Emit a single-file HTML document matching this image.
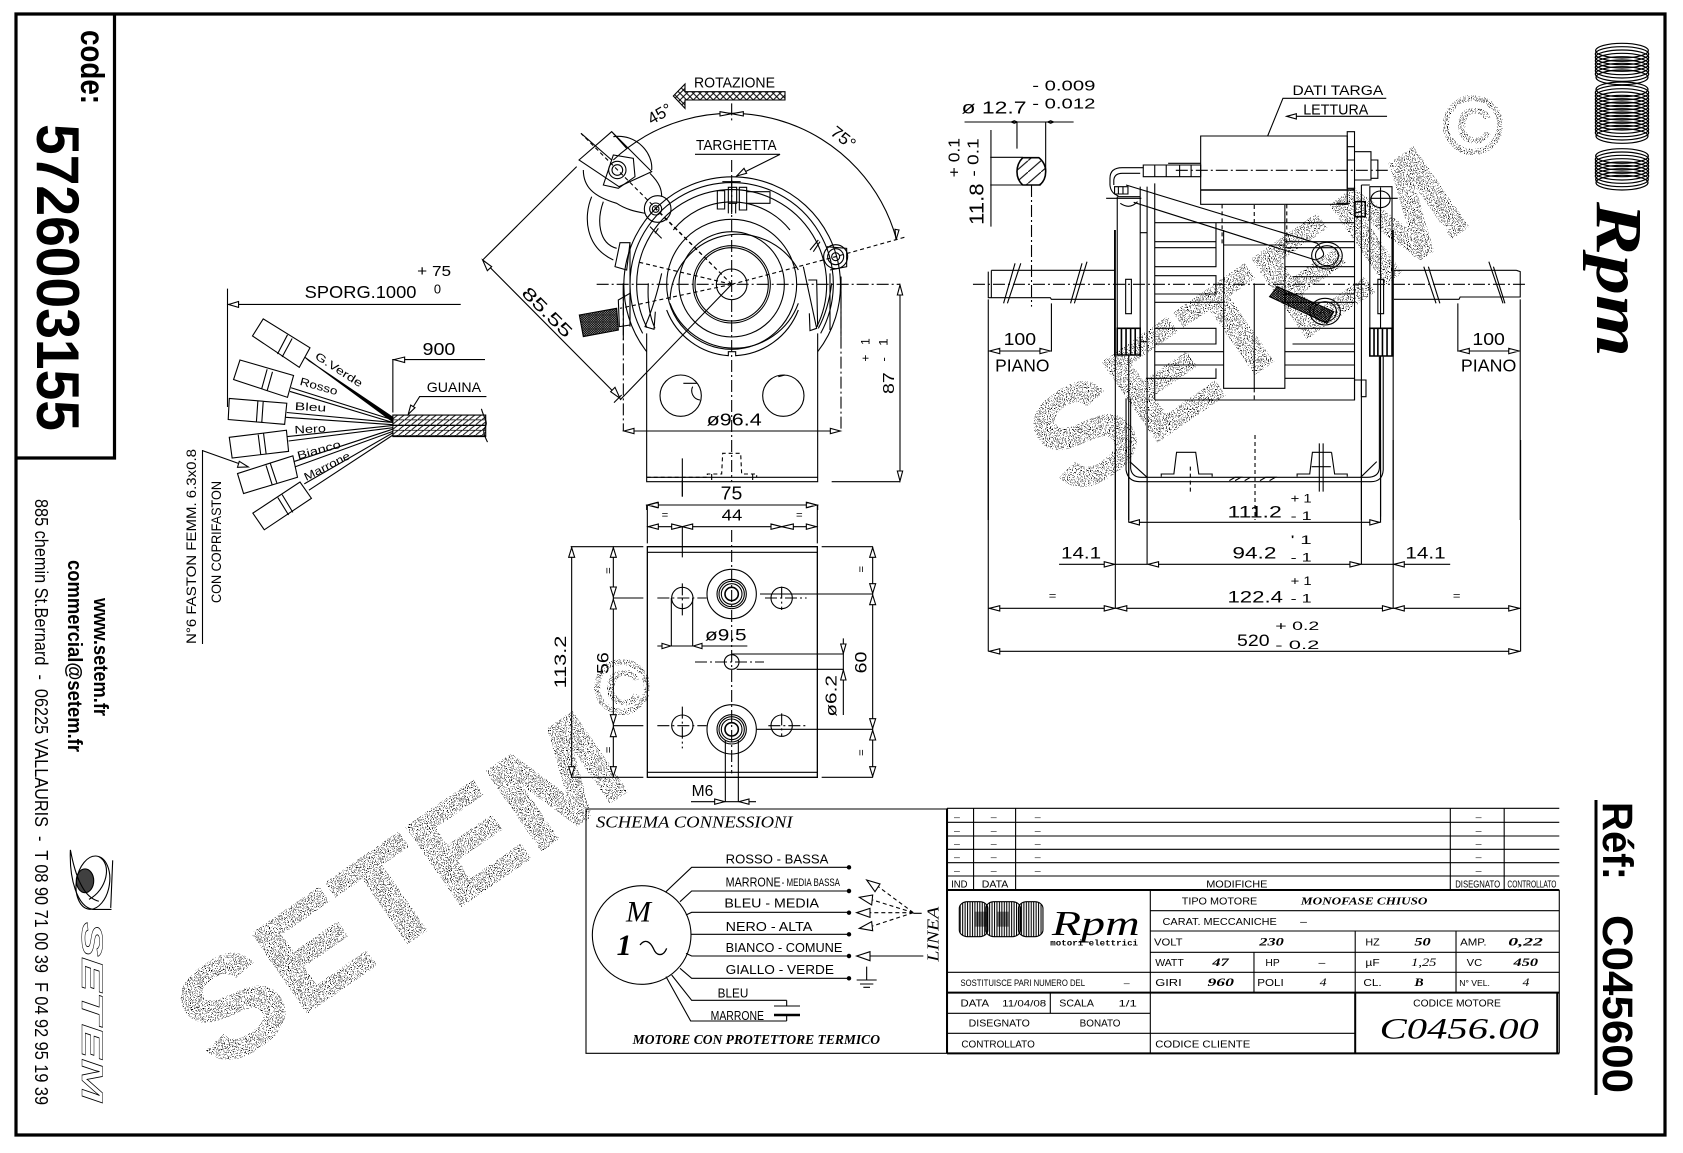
<!DOCTYPE html>
<html><head><meta charset="utf-8"><title>C045600</title>
<style>
html,body{margin:0;padding:0;background:#fff;width:1683px;height:1153px;overflow:hidden}
svg{display:block}
svg *{vector-effect:non-scaling-stroke}
pattern *{vector-effect:none}
.l{fill:none;stroke:#000;stroke-width:1.1}
.k{fill:#000}
.w{fill:#fff}
.d{stroke-dasharray:12 3 2 3}
.h{stroke-dasharray:4 3}
text{fill:#000;stroke:none;font-family:"Liberation Sans",sans-serif}
.s{font-family:"Liberation Serif",serif;font-style:italic}
.sb{font-family:"Liberation Serif",serif;font-style:italic;font-weight:bold}
.bd{font-weight:bold}
.wm{stroke:#000;stroke-width:3}
</style></head><body>
<svg xmlns="http://www.w3.org/2000/svg" width="1683" height="1153" viewBox="0 0 1683 1153">
<defs>
<pattern id="hx" width="18" height="14" patternUnits="userSpaceOnUse"><path d="M0 14L18 0M0 .5H18" stroke="#000" stroke-width="2.6"/></pattern>
<pattern id="hr" width="20" height="20" patternUnits="userSpaceOnUse"><path d="M0 20L20 0M0 0L20 20" stroke="#000" stroke-width="3"/></pattern>
<pattern id="hd" width="7" height="7" patternUnits="userSpaceOnUse"><path d="M0 7L7 0M0 0L7 7" stroke="#000" stroke-width="2.6"/></pattern>
<pattern id="hl" width="34" height="34" patternUnits="userSpaceOnUse"><path d="M0 34L34 0" stroke="#000" stroke-width="3"/></pattern>
<pattern id="st" width="6" height="5" patternUnits="userSpaceOnUse"><rect width="2.6" height="5" fill="#000"/></pattern>
<filter id="sp" x="-5%" y="-5%" width="110%" height="110%" color-interpolation-filters="sRGB">
<feTurbulence type="fractalNoise" baseFrequency="1.05" numOctaves="1" seed="4"/>
<feColorMatrix values="0 0 0 0 0 0 0 0 0 0 0 0 0 0 0 22 0 0 0 -12.6"/>
<feComposite in2="SourceAlpha" operator="in"/>
</filter>
</defs>

<!-- watermarks -->
<g filter="url(#sp)">
<text class="wm" transform="translate(219 1073) rotate(-34.7)" font-size="138" font-weight="bold" textLength="505" lengthAdjust="spacingAndGlyphs">SETEM</text>
<text class="wm" transform="translate(1072 500) rotate(-34.7)" font-size="138" font-weight="bold" textLength="490" lengthAdjust="spacingAndGlyphs">SETEM</text>
</g>
<g filter="url(#sp)" class="l" style="stroke-width:6">
<circle cx="1473" cy="125" r="27"/><circle cx="622" cy="687" r="25"/>
</g>
<g filter="url(#sp)"><text x="1456" y="143" font-size="50" font-weight="bold">C</text><text x="605" y="705" font-size="50" font-weight="bold">C</text></g>

<g class="l">
<!-- frame -->
<rect x="16" y="14" width="1649" height="1121" style="stroke-width:3.2"/>
<path d="M114.5 14V458H16" style="stroke-width:3.2"/>

<!-- left texts -->
<text transform="translate(81 30) rotate(90)" font-size="33" class="bd" textLength="74" lengthAdjust="spacingAndGlyphs">code:</text>
<text transform="translate(37 124) rotate(90)" font-size="60" class="bd" textLength="307" lengthAdjust="spacingAndGlyphs">5726003155</text>
<text transform="translate(94 598) rotate(90)" font-size="20" class="bd" textLength="118" lengthAdjust="spacingAndGlyphs">www.setem.fr</text>
<text transform="translate(68 560) rotate(90)" font-size="20" class="bd" textLength="192" lengthAdjust="spacingAndGlyphs">commercial@setem.fr</text>
<text transform="translate(35 499) rotate(90)" font-size="18" textLength="606" lengthAdjust="spacingAndGlyphs" xml:space="preserve">885 chemin St.Bernard  -  06225 VALLAURIS  -  T 08 90 71 00 39  F 04 92 95 19 39</text>
<text transform="translate(82 922) rotate(90)" font-size="30" font-style="italic" font-weight="bold" textLength="180" lengthAdjust="spacingAndGlyphs" style="fill:#fff;stroke:#000;stroke-width:.5">SETEM</text>

<!-- bird logo (z2) -->
<g transform="translate(0 570) scale(.3954 .3722)">
<ellipse cx="235" cy="840" rx="42" ry="72" transform="rotate(8 235 840)"/>
<ellipse cx="215" cy="835" rx="22" ry="32" class="k" fill-opacity=".75"/>
<path d="M178 752C175 830 195 905 235 912H282M178 752C190 820 210 880 250 890M285 780L280 908M250 770C285 790 270 860 225 885"/>
</g>

<!-- wiring harness (z1) -->
<g transform="scale(.35714 .36996)">
<path d="M637 780V1100M637 823H1290"/><path d="M640 823L668 815V831Z" class="w"/>
<text x="853" y="806" font-size="47" textLength="313" lengthAdjust="spacingAndGlyphs">SPORG.1000</text>
<text x="1168" y="746" font-size="40" textLength="95" lengthAdjust="spacingAndGlyphs" xml:space="preserve">+ 75</text>
<text x="1215" y="793" font-size="36">0</text>
<path d="M737 862L868 940L838 993L707 908ZM805 905L777 957M818 915L790 965"/>
<path d="M672 973L822 1015L805 1074L654 1026ZM748 998L733 1050M763 1005L748 1056"/>
<path d="M642 1077L803 1090L797 1147L639 1134ZM722 1084L718 1140M737 1085L733 1142"/>
<path d="M642 1182L802 1163L808 1220L650 1238ZM723 1175L730 1228M738 1172L745 1226"/>
<path d="M665 1280L820 1232L833 1290L682 1334ZM745 1258L762 1310M757 1253L775 1305"/>
<path d="M708 1387L840 1303L872 1347L740 1432ZM778 1345L808 1392M790 1337L820 1385"/>
<path d="M853 965L865 975L1100 1128V1140Z" class="k"/>
<path d="M815 1048L1100 1135M812 1058L1100 1142M803 1115L1100 1142M800 1128L1100 1148M805 1180L1100 1150M808 1192L1100 1156M822 1248L1100 1160M826 1262L1100 1166M852 1308L1100 1170M865 1325L1100 1176"/>
<text transform="translate(880 968) rotate(32)" font-size="30" textLength="150" lengthAdjust="spacingAndGlyphs">G.Verde</text>
<text transform="translate(838 1040) rotate(15)" font-size="30" textLength="108" lengthAdjust="spacingAndGlyphs">Rosso</text>
<text transform="translate(825 1108) rotate(3)" font-size="30" textLength="88" lengthAdjust="spacingAndGlyphs">Bleu</text>
<text transform="translate(825 1172) rotate(-3)" font-size="30" textLength="88" lengthAdjust="spacingAndGlyphs">Nero</text>
<text transform="translate(835 1242) rotate(-15)" font-size="30" textLength="125" lengthAdjust="spacingAndGlyphs">Bianco</text>
<text transform="translate(857 1300) rotate(-26)" font-size="30" textLength="140" lengthAdjust="spacingAndGlyphs">Marrone</text>
<rect x="1100" y="1122" width="260" height="58" fill="url(#hx)"/>
<path d="M1100 1150H1360M1348 1105C1355 1130 1366 1140 1360 1152C1350 1165 1355 1175 1365 1195"/>
<path d="M1100 1115V972H1358"/><path d="M1103 972L1133 965V980Z" class="w"/>
<text x="1183" y="960" font-size="48" textLength="92" lengthAdjust="spacingAndGlyphs">900</text>
<text x="1195" y="1060" font-size="38" textLength="152" lengthAdjust="spacingAndGlyphs">GUAINA</text>
<path d="M1362 1072H1175L1145 1118"/><path d="M1143 1120L1150 1095L1162 1102Z" class="w"/>
<path d="M567 1218L695 1262"/><path d="M695 1262L665 1263L670 1247Z" class="w"/>
</g>
<path d="M202.5 450V644"/>
<text transform="translate(196 644) rotate(-90)" font-size="13.5" textLength="195" lengthAdjust="spacingAndGlyphs">N°6 FASTON FEMM. 6.3x0.8</text>
<text transform="translate(221 603) rotate(-90)" font-size="13.5" textLength="122" lengthAdjust="spacingAndGlyphs">CON COPRIFASTON</text>

<!-- front view (z3) -->
<g transform="translate(470 70) scale(.33333)">
<text x="672" y="52" font-size="44" textLength="243" lengthAdjust="spacingAndGlyphs">ROTAZIONE</text>
<path d="M610 78L645 42V65H945V90H645V115Z" fill="url(#hr)"/>
<text transform="translate(545 165) rotate(-30)" font-size="50" textLength="75" lengthAdjust="spacingAndGlyphs">45°</text>
<text transform="translate(1078 192) rotate(38)" font-size="50" textLength="80" lengthAdjust="spacingAndGlyphs">75°</text>
<path d="M430 270A515 515 0 0 1 1280 510"/>
<path d="M750 125V138L785 131ZM820 125V138L785 131Z" class="w"/>
<path d="M1275 478L1287 480L1278 510Z" class="w"/>
<text x="678" y="240" font-size="44" textLength="242" lengthAdjust="spacingAndGlyphs">TARGHETTA</text>
<path d="M675 253H930L800 318"/><path d="M800 318L822 295L830 310Z" class="w"/>
<path d="M785 100V160M785 270V1235" class="d"/>
<path d="M380 643H1290" class="d"/>
<!-- rings -->
<circle cx="785" cy="643" r="46"/><circle cx="785" cy="643" r="110"/><circle cx="785" cy="643" r="116"/><circle cx="785" cy="643" r="158"/><circle cx="785" cy="643" r="195"/>
<path d="M600 690A205 205 0 0 1 985 600M985 700A205 205 0 0 1 600 700M590 720A214 214 0 0 0 775 857V845H797V857A214 214 0 0 0 985 720M610 480A224 224 0 0 1 960 480"/>
<path d="M530 845A325 325 0 1 1 1043 845"/>
<path d="M518 790A305 305 0 1 1 1052 790"/>
<path d="M531 773A285 285 0 1 1 1039 773"/>
<path d="M480 520V770M460 640V810M1113 620V800M1080 610V780"/>
<!-- plate -->
<path d="M530 790V1235H1043V790M530 1222H1043"/>
<path d="M530 1222H712V1212H755L758 1150H812L815 1212H860V1222" class="h"/>
<circle cx="632" cy="977" r="62"/><circle cx="940" cy="977" r="62"/>
<path d="M668 950A28 28 0 0 0 690 990M640 940H680M925 920L945 915"/>
<path d="M637 1165V1280M725 1230V1212M848 1230V1212"/>
<!-- terminal top -->
<path d="M742 362H764V417H742ZM808 352H830V420H808ZM775 352H800V400H775ZM830 365H900V400H830ZM757 335H812M785 320V432M775 400V430M797 400V430"/>
<!-- springs -->
<path d="M575 610Q555 700 525 770L552 778L556 725M535 640Q530 720 555 775M1000 590L1040 775L1020 782L1018 730M1015 630H1040L1043 770M1085 640Q1075 720 1045 775"/>
<!-- lugs -->
<circle cx="557" cy="417" r="18"/><circle cx="557" cy="417" r="10"/><circle cx="563" cy="417" r="40"/>
<circle cx="1097" cy="560" r="12"/><circle cx="1097" cy="560" r="24"/><circle cx="1097" cy="560" r="36"/>
<path d="M1070 530L1130 535L1130 590L1080 600"/>
<path d="M540 470L575 505M555 490L565 475M1020 540L1045 510M1030 545L1050 515"/>
<!-- left terminal -->
<path d="M327 270L425 185L545 305L447 350ZM333 190L425 270M425 185L470 235"/>
<circle cx="442" cy="300" r="26"/><circle cx="442" cy="300" r="16"/>
<path d="M400 345L430 255L490 265L495 320L445 355Z"/>
<path d="M340 300C340 350 370 380 440 400C470 420 500 425 525 430M430 200C500 190 550 250 545 300M540 310C570 340 575 360 575 380"/>
<path d="M365 380C340 440 345 530 430 570M400 395C380 450 385 520 440 535"/>
<path d="M450 518H480L470 600L435 590ZM445 690L480 670V765L448 770Z"/>
<path d="M328 735L440 715L445 780L340 800Z" fill="url(#hd)"/>
<path d="M785 643L555 415M785 643L1097 560L1310 500M785 643L500 575M785 643L450 715M785 643L333 190" class="h"/>
<!-- dimensions -->
<path d="M450 990L785 643M38 570L320 290M38 570L450 985M432 998L455 975"/>
<path d="M38 570L65 590L52 602ZM450 985L422 965L435 952Z" class="w"/>
<text transform="translate(152 672) rotate(45)" font-size="52" textLength="190" lengthAdjust="spacingAndGlyphs">85.55</text>
<path d="M460 640V1083M1113 620V1083" class="d"/>
<path d="M460 1083H1113"/><path d="M462 1083L492 1075V1091ZM1111 1083L1081 1075V1091Z" class="w"/>
<text x="710" y="1066" font-size="52" textLength="165" lengthAdjust="spacingAndGlyphs">ø96.4</text>
<path d="M1290 643V1235M1085 1235H1290"/><path d="M1290 645L1282 675H1298ZM1290 1233L1282 1203H1298Z" class="w"/>
<text transform="translate(1272 972) rotate(-90)" font-size="48" textLength="65" lengthAdjust="spacingAndGlyphs">87</text>
<text transform="translate(1198 875) rotate(-90)" font-size="36" textLength="70" lengthAdjust="spacingAndGlyphs" xml:space="preserve">+   1</text>
<text transform="translate(1253 875) rotate(-90)" font-size="36" textLength="70" lengthAdjust="spacingAndGlyphs" xml:space="preserve">-   1</text>
<path d="M530 1320V1305H1043V1320"/><path d="M532 1305L562 1297V1313ZM1041 1305L1011 1297V1313Z" class="w"/>
<text x="752" y="1288" font-size="55" textLength="65" lengthAdjust="spacingAndGlyphs">75</text>
</g>

<!-- plan view (z4) -->
<g transform="translate(540 480) scale(.33333)">
<path d="M322 75V190M832 75V190M322 75H832M322 140H832"/>
<path d="M325 75L355 67V83ZM829 75L799 67V83ZM325 140L355 132V148ZM829 140L799 132V148ZM427 140L395 132V148ZM427 140L458 132V148ZM725 140L693 132V148ZM725 140L760 132V148Z" class="w"/>
<text x="365" y="115" font-size="34">=</text><text x="768" y="115" font-size="34">=</text>
<text x="545" y="122" font-size="46" textLength="62" lengthAdjust="spacingAndGlyphs">44</text>
<path d="M427 0V50M427 140V232" />
<path d="M575 150V880" class="d"/>
<rect x="322" y="200" width="510" height="692" style="stroke-width:1.3"/>
<path d="M322 217H832M322 877H832"/>
<!-- bosses -->
<circle cx="575" cy="342" r="74"/><circle cx="575" cy="342" r="44"/><circle cx="575" cy="342" r="38"/><circle cx="575" cy="342" r="31"/><circle cx="575" cy="342" r="20" style="stroke-width:1.6"/>
<circle cx="575" cy="748" r="74"/><circle cx="575" cy="748" r="44"/><circle cx="575" cy="748" r="38"/><circle cx="575" cy="748" r="31"/><circle cx="575" cy="748" r="20" style="stroke-width:1.6"/>
<circle cx="427" cy="354" r="32"/><circle cx="725" cy="354" r="32"/><circle cx="427" cy="737" r="32"/><circle cx="725" cy="737" r="32"/>
<circle cx="575" cy="546" r="22"/>
<path d="M352 354H500M675 354H800M427 310V415M725 320V390M352 737H500M685 737H800M427 680V805M725 700V770M465 546H672" class="d"/>
<path d="M845 200H998M92 200H310M220 354H310M660 342H998M220 737H310M650 748H998M92 892H310M845 892H998"/>
<path d="M95 200V892M220 200V892M998 200V892"/>
<path d="M95 203L86 232H104ZM95 889L86 860H104ZM220 203L211 232H229ZM220 350L211 321H229ZM220 358L211 387H229ZM220 733L211 704H229ZM220 741L211 770H229ZM220 889L211 860H229ZM998 203L989 232H1007ZM998 340L989 311H1007ZM998 345L989 374H1007ZM998 745L989 716H1007ZM998 751L989 780H1007ZM998 889L989 860H1007Z" class="w"/>
<text transform="translate(78 625) rotate(-90)" font-size="50" textLength="158" lengthAdjust="spacingAndGlyphs">113.2</text>
<text transform="translate(206 582) rotate(-90)" font-size="50" textLength="65" lengthAdjust="spacingAndGlyphs">56</text>
<text transform="translate(980 580) rotate(-90)" font-size="50" textLength="65" lengthAdjust="spacingAndGlyphs">60</text>
<text transform="translate(194 262) rotate(90)" font-size="34">=</text><text transform="translate(194 800) rotate(90)" font-size="34">=</text>
<text transform="translate(952 258) rotate(90)" font-size="34">=</text><text transform="translate(952 808) rotate(90)" font-size="34">=</text>
<!-- d9.5 -->
<path d="M394 354V498M458 354V498M352 498H622"/>
<path d="M392 498L366 490V506ZM460 498L486 490V506Z" class="w"/>
<text x="495" y="482" font-size="50" textLength="125" lengthAdjust="spacingAndGlyphs">ø9.5</text>
<!-- d6.2 -->
<path d="M575 522H910M590 568H910M910 475V705"/>
<path d="M910 520L902 492H918ZM910 570L902 600H918Z" class="w"/>
<text transform="translate(890 710) rotate(-90)" font-size="48" textLength="125" lengthAdjust="spacingAndGlyphs">ø6.2</text>
<!-- M6 -->
<path d="M556 780V965M595 780V965M453 965H648"/>
<path d="M554 965L524 957V973ZM597 965L627 957V973Z" class="w"/>
<text x="455" y="948" font-size="46" textLength="65" lengthAdjust="spacingAndGlyphs">M6</text>
</g>

<!-- side view (z5) -->
<g transform="translate(950 70) scale(.3827 .33333)">
<text x="30" y="130" font-size="52" textLength="170" lengthAdjust="spacingAndGlyphs">ø 12.7</text>
<text x="215" y="62" font-size="44" textLength="165" lengthAdjust="spacingAndGlyphs" xml:space="preserve">- 0.009</text>
<text x="215" y="115" font-size="44" textLength="165" lengthAdjust="spacingAndGlyphs" xml:space="preserve">- 0.012</text>
<path d="M38 156H323M175 156V236M250 156V305M105 262H190M105 345H190M107 180V470"/>
<path d="M160 156l8 -4 8 4 -8 4ZM255 156l8 -4 8 4 -8 4Z"/>
<path d="M190 263H232C245 275 250 290 250 305C250 320 245 335 235 345H190C180 335 175 320 175 305C175 290 180 275 190 263Z" fill="url(#hl)" style="stroke-width:1.6"/>
<path d="M213 345V710" class="d"/>
<text transform="translate(88 465) rotate(-90)" font-size="52" textLength="125" lengthAdjust="spacingAndGlyphs">11.8</text>
<text transform="translate(25 322) rotate(-90)" font-size="42" textLength="118" lengthAdjust="spacingAndGlyphs" xml:space="preserve">+ 0.1</text>
<text transform="translate(75 320) rotate(-90)" font-size="42" textLength="115" lengthAdjust="spacingAndGlyphs" xml:space="preserve">- 0.1</text>
<text x="895" y="75" font-size="42" textLength="237" lengthAdjust="spacingAndGlyphs">DATI TARGA</text>
<text x="923" y="133" font-size="44" textLength="170" lengthAdjust="spacingAndGlyphs">LETTURA</text>
<path d="M1140 85H870L830 198M880 139H1142"/><path d="M880 139L905 131V147Z" class="w"/>
<!-- shaft -->
<path d="M108 601H432M100 605V683H262L265 688H432M1160 601H1480M1160 688H1330L1333 681H1490V605L1480 601"/>
<path d="M60 643H1510" class="d"/>
<path d="M185 580L150 700M170 580L140 700M358 575L325 700M345 580L315 700M1238 590L1270 700M1250 590L1280 700M1408 575L1445 700M1420 590L1450 700M108 601V683"/>
<path d="M100 688V1350M265 700V845M1327 700V845M1490 688V1350"/>
<path d="M100 843H265M1327 843H1490"/>
<path d="M103 843L130 835V851ZM262 843L235 835V851ZM1330 843L1357 835V851ZM1487 843L1460 835V851Z" class="w"/>
<text x="140" y="825" font-size="52" textLength="85" lengthAdjust="spacingAndGlyphs">100</text><text x="118" y="905" font-size="52" textLength="142" lengthAdjust="spacingAndGlyphs">PIANO</text>
<text x="1365" y="825" font-size="52" textLength="85" lengthAdjust="spacingAndGlyphs">100</text><text x="1335" y="905" font-size="52" textLength="145" lengthAdjust="spacingAndGlyphs">PIANO</text>
<!-- capacitor -->
<rect x="655" y="198" width="383" height="205"/>
<path d="M1038 185H1057V355H1038ZM1038 230H1057M1038 270H1057M1057 245H1100V330H1057M1100 270H1118V325H1100"/>
<path d="M505 285H655V320H505ZM535 285V320M565 285V320M600 285V320M630 285V320M570 280H655" />
<path d="M590 301H1150" class="d"/>
<path d="M505 293H450Q418 293 418 325V345Q420 370 440 378M497 310H450Q430 310 428 330V345"/>
<path d="M430 350H465V372H430ZM440 350V372M452 350V372"/>
<!-- end frames -->
<path d="M437 380V775H497V380H437M497 350V860M515 350V990M535 340V990M497 488H515M497 815H515"/>
<path d="M1097 350H1155V775H1097ZM1075 345V930M1057 350V990M1075 345H1097"/>
<path d="M408 385H500M430 480V860M1158 480V860M1100 385H1170"/>
<rect x="459" y="628" width="15" height="103"/><rect x="1118" y="628" width="15" height="103"/>
<path d="M437 775H497V855H437ZM448 775V855M460 775V855M472 775V855M484 775V855" style="stroke-width:1.6"/>
<path d="M1097 775H1155V858H1097ZM1108 775V858M1118 775V858M1130 775V858M1142 775V858" style="stroke-width:1.6"/>
<path d="M1125 352V775M467 855V1200M1125 858V1340" />
<path d="M445 400Q470 420 490 395"/>
<circle cx="1125" cy="388" r="25"/>
<path d="M1058 395H1085V440H1058Z" style="stroke-width:1.6"/>
<!-- stator -->
<path d="M535 458H1057M535 515H695V458M535 533H695M535 590H695V480M535 617H695V672H535M535 697H715M535 775H695V822H535M535 845H715M535 885H715M512 925H695V895M535 990H1057V925H875M875 515H1057M875 533H1057M875 590H1057M895 620H1057M875 672H1057M875 697H1057M875 775H1057M895 822H1057M875 845H1057M875 885H1057"/>
<path d="M655 360H1057" style="stroke-width:1.6"/>
<path d="M715 480V955H875V405M715 525H875" />
<path d="M795 405V458M795 955V990M711 403V525M880 403V525" class="h"/>
<path d="M795 640V955"/>
<path d="M1057 930H1075V980H1087V930H1075"/>
<!-- diag wires -->
<path d="M460 345L960 520M480 397L955 570M960 520C980 550 985 560 955 570"/>
<circle cx="985" cy="557" r="40"/><circle cx="985" cy="557" r="30"/>
<circle cx="980" cy="725" r="40"/><circle cx="980" cy="725" r="30"/>
<path d="M835 680L855 650L1003 725L985 760Z" fill="url(#hd)"/>
<!-- strap -->
<path d="M460 985V1200Q465 1235 495 1235H1100Q1130 1235 1132 1200V860"/>
<path d="M472 985V1195Q475 1222 500 1222H1090Q1120 1222 1122 1195V860"/>
<path d="M470 1175L515 1222M1073 1222L1115 1175"/>
<path d="M552 1220V1212H585L592 1147H642L650 1212H685V1220M907 1220V1212H940L947 1147H997M997 1147L1005 1212H1038V1220"/>
<path d="M730 1232L745 1222H760L745 1232M770 1232L785 1222M810 1232L825 1222H850L835 1232"/>
<path d="M628 1190V1265M797 1095V1350" class="h"/>
<path d="M965 1120V1265M975 1120V1265M945 1190H995"/>
<path d="M432 480V1350M1158 480V1350M515 990V1350M1075 930V1350M467 1200V1350M1125 1200V1350"/>
<path d="M1075 425L1055 430M1010 400H1045"/>
</g>

<!-- bottom dims (z6) -->
<g transform="translate(950 440) scale(.3827 .33333)">
<path d="M100 0V634M1491 0V634M432 0V505M1158 0V505M515 0V373M1075 0V373M467 0V247M1125 0V247"/>
<path d="M467 247H1125M285 373H1307M100 505H1491M100 634H1491"/>
<path d="M470 247L495 239V255ZM1122 247L1097 239V255ZM430 373L403 365V381ZM518 373L545 365V381ZM1073 373L1045 365V381ZM1160 373L1187 365V381ZM103 505L130 497V513ZM430 505L403 497V513ZM435 505L462 497V513ZM1155 505L1130 497V513ZM1162 505L1187 497V513ZM1488 505L1460 497V513ZM103 634L130 626V642ZM1488 634L1460 626V642Z" class="w"/>
<text x="725" y="232" font-size="50" textLength="142" lengthAdjust="spacingAndGlyphs">111.2</text>
<text x="890" y="188" font-size="36" textLength="55" lengthAdjust="spacingAndGlyphs" xml:space="preserve">+ 1</text>
<text x="890" y="240" font-size="36" textLength="55" lengthAdjust="spacingAndGlyphs" xml:space="preserve">- 1</text>
<text x="290" y="356" font-size="50" textLength="105" lengthAdjust="spacingAndGlyphs">14.1</text>
<text x="1190" y="356" font-size="50" textLength="105" lengthAdjust="spacingAndGlyphs">14.1</text>
<text x="738" y="356" font-size="50" textLength="115" lengthAdjust="spacingAndGlyphs">94.2</text>
<text x="890" y="312" font-size="36" textLength="55" lengthAdjust="spacingAndGlyphs" xml:space="preserve">' 1</text>
<text x="890" y="365" font-size="36" textLength="55" lengthAdjust="spacingAndGlyphs" xml:space="preserve">- 1</text>
<text x="725" y="488" font-size="50" textLength="145" lengthAdjust="spacingAndGlyphs">122.4</text>
<text x="890" y="435" font-size="36" textLength="55" lengthAdjust="spacingAndGlyphs" xml:space="preserve">+ 1</text>
<text x="890" y="488" font-size="36" textLength="55" lengthAdjust="spacingAndGlyphs" xml:space="preserve">- 1</text>
<text x="258" y="478" font-size="34">=</text><text x="1314" y="478" font-size="34">=</text>
<text x="850" y="570" font-size="36" textLength="115" lengthAdjust="spacingAndGlyphs" xml:space="preserve">+ 0.2</text>
<text x="750" y="618" font-size="50" textLength="85" lengthAdjust="spacingAndGlyphs">520</text>
<text x="850" y="627" font-size="36" textLength="115" lengthAdjust="spacingAndGlyphs" xml:space="preserve">- 0.2</text>
</g>

<!-- schema (z7) -->
<g transform="translate(580 800) scale(.33333)">
<path d="M18 27H1100V760H18Z"/>
<text x="48" y="83" class="s" font-size="50" textLength="590" lengthAdjust="spacingAndGlyphs">SCHEMA CONNESSIONI</text>
<circle cx="185" cy="405" r="148"/>
<text x="138" y="365" class="s" font-size="90">M</text>
<text x="110" y="465" class="sb" font-size="90">1</text>
<path d="M180 435C195 415 210 425 220 445C230 470 250 470 260 445" style="stroke-width:1.3"/>
<path d="M258 275L335 202H805M300 305L335 273H805M318 345L335 337H805M332 403H805M318 460L335 468H805M300 505L335 535H805M275 525L335 601H620M258 530L332 663H620" />
<g class="k"><circle cx="807" cy="202" r="5"/><circle cx="807" cy="273" r="5"/><circle cx="807" cy="338" r="5"/><circle cx="807" cy="403" r="5"/><circle cx="807" cy="468" r="5"/><circle cx="807" cy="535" r="5"/></g>
<text x="437" y="190" font-size="40" textLength="308" lengthAdjust="spacingAndGlyphs" xml:space="preserve">ROSSO - BASSA</text>
<text x="437" y="260" font-size="40" textLength="165" lengthAdjust="spacingAndGlyphs">MARRONE</text>
<text x="605" y="258" font-size="32" textLength="175" lengthAdjust="spacingAndGlyphs">- MEDIA BASSA</text>
<text x="433" y="323" font-size="40" textLength="284" lengthAdjust="spacingAndGlyphs" xml:space="preserve">BLEU - MEDIA</text>
<text x="437" y="393" font-size="40" textLength="260" lengthAdjust="spacingAndGlyphs" xml:space="preserve">NERO - ALTA</text>
<text x="437" y="456" font-size="40" textLength="350" lengthAdjust="spacingAndGlyphs" xml:space="preserve">BIANCO - COMUNE</text>
<text x="437" y="522" font-size="40" textLength="325" lengthAdjust="spacingAndGlyphs" xml:space="preserve">GIALLO - VERDE</text>
<text x="413" y="592" font-size="40" textLength="92" lengthAdjust="spacingAndGlyphs">BLEU</text>
<text x="392" y="660" font-size="40" textLength="160" lengthAdjust="spacingAndGlyphs">MARRONE</text>
<path d="M620 601V618M582 618H660M620 663V645"/><path d="M582 645H660" style="stroke-width:2.4"/>
<path d="M1000 338L895 260M1000 338L878 300M1000 338H870M1000 338L878 378" class="h"/>
<path d="M1000 340H1025M870 468H1030"/>
<path d="M860 240L900 252L885 275ZM838 292L878 285L875 315ZM830 338L870 325V352ZM838 385L875 365L878 392ZM830 468L870 455V482Z" class="w"/>
<path d="M860 500V540M830 540H890M840 552H880M850 562H870"/>
<text transform="translate(1075 485) rotate(-90)" class="s" font-size="50" textLength="165" lengthAdjust="spacingAndGlyphs">LINEA</text>
<text x="158" y="732" class="sb" font-size="40" textLength="742" lengthAdjust="spacingAndGlyphs">MOTORE CON PROTETTORE TERMICO</text>
</g>

<!-- title block (z8) -->
<g transform="translate(945 800) scale(.40816 .33333)">
<path d="M5 25V760" style="stroke-width:2"/>
<path d="M5 25H1505M5 67H1505M5 108H1505M5 148H1505M5 188H1505M5 228H1505"/>
<path d="M5 270H1505" style="stroke-width:2"/>
<path d="M70 25V270M173 25V270M1238 25V270M1370 25V270M1505 270V760"/>
<path d="M503 270V760M503 332H1505M503 393H1505M503 457H1505M503 517H1505M5 517H503M5 640H503M5 700H503M503 700H1005M757 457V578M1005 393V578M1252 393V578M258 578V640"/>
<path d="M5 578H1505M1005 578V760H1500V578M5 760H1505" style="stroke-width:2"/>
<text x="22" y="60" font-size="26">–</text><text x="112" y="60" font-size="26">–</text><text x="220" y="60" font-size="26">–</text><text x="1300" y="60" font-size="26">–</text>
<text x="22" y="100" font-size="26">–</text><text x="112" y="100" font-size="26">–</text><text x="220" y="100" font-size="26">–</text><text x="1300" y="100" font-size="26">–</text>
<text x="22" y="140" font-size="26">–</text><text x="112" y="140" font-size="26">–</text><text x="220" y="140" font-size="26">–</text><text x="1300" y="140" font-size="26">–</text>
<text x="22" y="180" font-size="26">–</text><text x="112" y="180" font-size="26">–</text><text x="220" y="180" font-size="26">–</text><text x="1300" y="180" font-size="26">–</text>
<text x="22" y="220" font-size="26">–</text><text x="112" y="220" font-size="26">–</text><text x="220" y="220" font-size="26">–</text><text x="1300" y="220" font-size="26">–</text>
<text x="15" y="262" font-size="30" textLength="40" lengthAdjust="spacingAndGlyphs">IND</text>
<text x="90" y="262" font-size="30" textLength="65" lengthAdjust="spacingAndGlyphs">DATA</text>
<text x="640" y="262" font-size="30" textLength="150" lengthAdjust="spacingAndGlyphs">MODIFICHE</text>
<text x="1250" y="262" font-size="30" textLength="110" lengthAdjust="spacingAndGlyphs">DISEGNATO</text>
<text x="1378" y="262" font-size="30" textLength="120" lengthAdjust="spacingAndGlyphs">CONTROLLATO</text>
<rect x="35" y="305" width="70" height="105" rx="20" fill="url(#st)"/><rect x="100" y="305" width="85" height="105" rx="20" fill="url(#st)"/><rect x="180" y="305" width="60" height="105" rx="20" fill="url(#st)"/>
<rect x="72" y="335" width="30" height="45" class="k" fill-opacity=".5" stroke="none"/><rect x="128" y="335" width="28" height="45" class="k" fill-opacity=".5" stroke="none"/>
<text x="262" y="405" class="s" font-size="105" textLength="215" lengthAdjust="spacingAndGlyphs">Rpm</text>
<text x="258" y="437" font-size="24" class="bd" style="font-family:'Liberation Mono',monospace" textLength="215" lengthAdjust="spacingAndGlyphs">motori elettrici</text>
<text x="580" y="313" font-size="30" textLength="185" lengthAdjust="spacingAndGlyphs">TIPO MOTORE</text>
<text x="872" y="313" class="sb" font-size="32" textLength="310" lengthAdjust="spacingAndGlyphs">MONOFASE CHIUSO</text>
<text x="533" y="375" font-size="30" textLength="280" lengthAdjust="spacingAndGlyphs">CARAT. MECCANICHE</text>
<text x="870" y="375" font-size="30">–</text>
<text x="512" y="437" font-size="30" textLength="70" lengthAdjust="spacingAndGlyphs">VOLT</text><text x="770" y="437" class="sb" font-size="34" textLength="60" lengthAdjust="spacingAndGlyphs">230</text>
<text x="1030" y="437" font-size="30" textLength="35" lengthAdjust="spacingAndGlyphs">HZ</text><text x="1150" y="437" class="sb" font-size="34" textLength="40" lengthAdjust="spacingAndGlyphs">50</text>
<text x="1262" y="437" font-size="30" textLength="65" lengthAdjust="spacingAndGlyphs">AMP.</text><text x="1380" y="437" class="sb" font-size="34" textLength="85" lengthAdjust="spacingAndGlyphs">0,22</text>
<text x="515" y="498" font-size="30" textLength="70" lengthAdjust="spacingAndGlyphs">WATT</text><text x="655" y="498" class="sb" font-size="34" textLength="40" lengthAdjust="spacingAndGlyphs">47</text>
<text x="785" y="498" font-size="30" textLength="35" lengthAdjust="spacingAndGlyphs">HP</text><text x="915" y="498" font-size="30">–</text>
<text x="1030" y="498" font-size="30" textLength="35" lengthAdjust="spacingAndGlyphs">µF</text><text x="1142" y="498" class="s" font-size="34" textLength="62" lengthAdjust="spacingAndGlyphs">1,25</text>
<text x="1278" y="498" font-size="30" textLength="38" lengthAdjust="spacingAndGlyphs">VC</text><text x="1393" y="498" class="sb" font-size="34" textLength="60" lengthAdjust="spacingAndGlyphs">450</text>
<text x="515" y="558" font-size="30" textLength="65" lengthAdjust="spacingAndGlyphs">GIRI</text><text x="643" y="558" class="sb" font-size="34" textLength="65" lengthAdjust="spacingAndGlyphs">960</text>
<text x="765" y="558" font-size="30" textLength="65" lengthAdjust="spacingAndGlyphs">POLI</text><text x="918" y="558" class="s" font-size="34">4</text>
<text x="1025" y="558" font-size="30" textLength="45" lengthAdjust="spacingAndGlyphs">CL.</text><text x="1150" y="558" class="sb" font-size="34">B</text>
<text x="1260" y="558" font-size="26" textLength="75" lengthAdjust="spacingAndGlyphs">N° VEL.</text><text x="1415" y="558" class="s" font-size="34">4</text>
<text x="38" y="558" font-size="28" textLength="305" lengthAdjust="spacingAndGlyphs">SOSTITUISCE PARI NUMERO DEL</text>
<text x="438" y="558" font-size="26">–</text>
<text x="38" y="620" font-size="30" textLength="70" lengthAdjust="spacingAndGlyphs">DATA</text><text x="140" y="620" font-size="28" textLength="108" lengthAdjust="spacingAndGlyphs">11/04/08</text>
<text x="280" y="620" font-size="30" textLength="85" lengthAdjust="spacingAndGlyphs">SCALA</text><text x="425" y="620" font-size="28" textLength="45" lengthAdjust="spacingAndGlyphs">1/1</text>
<text x="58" y="680" font-size="30" textLength="150" lengthAdjust="spacingAndGlyphs">DISEGNATO</text><text x="330" y="680" font-size="30" textLength="100" lengthAdjust="spacingAndGlyphs">BONATO</text>
<text x="40" y="743" font-size="30" textLength="180" lengthAdjust="spacingAndGlyphs">CONTROLLATO</text>
<text x="515" y="743" font-size="30" textLength="233" lengthAdjust="spacingAndGlyphs">CODICE CLIENTE</text>
<text x="1147" y="620" font-size="30" textLength="215" lengthAdjust="spacingAndGlyphs">CODICE MOTORE</text>
<text x="1065" y="716" class="s" font-size="90" textLength="390" lengthAdjust="spacingAndGlyphs">C0456.00</text>
</g>

<!-- top right logo (z9) -->
<g transform="translate(1560 20) scale(.33333)">
<g style="stroke-width:1.2">
<ellipse cx="186" cy="92" rx="79" ry="22"/><ellipse cx="186" cy="102" rx="80" ry="22"/><ellipse cx="186" cy="112" rx="80" ry="22"/><ellipse cx="186" cy="122" rx="80" ry="22"/><ellipse cx="186" cy="132" rx="80" ry="22"/><ellipse cx="186" cy="142" rx="80" ry="22"/><ellipse cx="186" cy="152" rx="80" ry="22"/><ellipse cx="186" cy="162" rx="80" ry="22"/><ellipse cx="186" cy="172" rx="78" ry="22"/>
<ellipse cx="186" cy="208" rx="78" ry="22"/><ellipse cx="186" cy="218" rx="80" ry="22"/><ellipse cx="186" cy="228" rx="80" ry="22"/><ellipse cx="186" cy="238" rx="80" ry="22"/><ellipse cx="186" cy="248" rx="80" ry="22"/><ellipse cx="186" cy="258" rx="80" ry="22"/><ellipse cx="186" cy="268" rx="80" ry="22"/><ellipse cx="186" cy="278" rx="80" ry="22"/><ellipse cx="186" cy="288" rx="80" ry="22"/><ellipse cx="186" cy="298" rx="80" ry="22"/><ellipse cx="186" cy="308" rx="80" ry="22"/><ellipse cx="186" cy="318" rx="80" ry="22"/><ellipse cx="186" cy="328" rx="80" ry="22"/><ellipse cx="186" cy="338" rx="80" ry="22"/><ellipse cx="186" cy="348" rx="78" ry="22"/>
<ellipse cx="186" cy="408" rx="79" ry="22"/><ellipse cx="186" cy="418" rx="80" ry="22"/><ellipse cx="186" cy="428" rx="80" ry="22"/><ellipse cx="186" cy="438" rx="80" ry="22"/><ellipse cx="186" cy="448" rx="80" ry="22"/><ellipse cx="186" cy="458" rx="80" ry="22"/><ellipse cx="186" cy="468" rx="80" ry="22"/><ellipse cx="186" cy="478" rx="79" ry="22"/><ellipse cx="186" cy="488" rx="78" ry="22"/>
</g>
</g>
<text transform="translate(1597 202) rotate(90)" class="sb" font-size="66" textLength="155" lengthAdjust="spacingAndGlyphs">Rpm</text>

<!-- ref -->
<path d="M1596 800V1095" style="stroke-width:3"/>
<text transform="translate(1603 802) rotate(90)" class="bd" font-size="43" textLength="78" lengthAdjust="spacingAndGlyphs">Réf:</text>
<text transform="translate(1603 915) rotate(90)" class="bd" font-size="43" textLength="178" lengthAdjust="spacingAndGlyphs">C045600</text>
</g>
</svg>
</body></html>
